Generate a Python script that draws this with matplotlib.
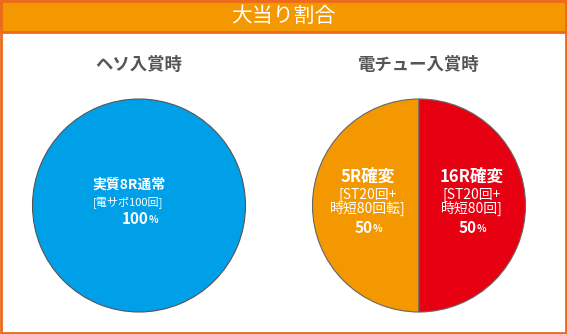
import matplotlib
matplotlib.use("Agg")
import matplotlib.pyplot as plt
from matplotlib.patches import Rectangle

plt.rcParams['font.family'] = ['Noto Sans CJK JP', 'DejaVu Sans']

# chart data
header = '大当り割合'
titles = ['ヘソ入賞時', '電チュー入賞時']
heso_values = [100]
heso_colors = ['#00A0E9']
heso_labels = [['実質8R通常', '[電サポ100回]', '100']]
den_values = [50, 50]
den_colors = ['#F39800', '#E60012']
den_labels = [['5R確変', '[ST20回+\n時短80回転]', '50'],
              ['16R確変', '[ST20回+\n時短80回]', '50']]

W, H = 567, 334
R = 106.5
fig = plt.figure(figsize=(W / 100, H / 100), dpi=100)

# frame and header band (pixel coords, y from top), kept under the axes
def px_rect(x, y, w, h, **kw):
    fig.patches.append(Rectangle((x / W, 1 - (y + h) / H), w / W, h / H,
                                 transform=fig.transFigure, zorder=-5, **kw))

px_rect(1, 1, W - 2, H - 2, facecolor='white', edgecolor='#EC6A1A', linewidth=2)
px_rect(1, 1, W - 2, 31, facecolor='#F39800', edgecolor='#EC6A1A', linewidth=2)
fig.text(283 / W, 1 - 16 / H, header, color='white', fontsize=15,
         ha='center', va='center')


def pie_axes(cx, cy):
    ax = fig.add_axes([(cx - R) / W, 1 - (cy + R) / H, 2 * R / W, 2 * R / H])
    ax.set_zorder(2)
    return ax


def fix_limits(ax):
    # pie() pads the limits, pin them to the unit circle
    ax.set_xlim(-1, 1)
    ax.set_ylim(-1, 1)
    ax.set_aspect('equal')
    ax.axis('off')


def to_data(cx, cy, x, y):
    return (x - cx) / R, (cy - y) / R


def pct(ax, x, y, num, size):
    t = ax.text(x, y, num, color='white', fontsize=size, fontweight='bold',
                ha='center', va='center')
    ax.annotate('%', xy=(1, 0.12), xycoords=t, color='white', fontsize=size * 0.65,
                fontweight='bold', ha='left', va='bottom')


centers = [(139, 205.5), (419, 205.5)]
for (cx, cy), title in zip(centers, titles):
    fig.text(cx / W, 1 - 65 / H, title, color='#555555', fontsize=12.5,
             fontweight='bold', ha='center', va='center')

# left pie
cx, cy = centers[0]
ax1 = pie_axes(cx, cy)
ax1.pie(heso_values, colors=heso_colors, startangle=90, radius=1,
        wedgeprops=dict(edgecolor='#555555', linewidth=0.8))
fix_limits(ax1)
lab = heso_labels[0]
x, y = to_data(cx, cy, 129, 185)
ax1.text(x, y, lab[0], color='white', fontsize=10, fontweight='bold',
         ha='center', va='center')
x, y = to_data(cx, cy, 128, 202)
ax1.text(x, y, lab[1], color='white', fontsize=8, ha='center', va='center')
x, y = to_data(cx, cy, 135, 219)
pct(ax1, x, y, lab[2], 11)

# right pie
cx, cy = centers[1]
ax2 = pie_axes(cx, cy)
ax2.pie(den_values, colors=den_colors, startangle=90, radius=1,
        wedgeprops=dict(edgecolor='#666666', linewidth=0.8))
fix_limits(ax2)
for lab, tx in zip(den_labels, [368, 472]):
    x, y = to_data(cx, cy, tx, 177)
    ax2.text(x, y, lab[0], color='white', fontsize=12, fontweight='bold',
             ha='center', va='center')
    x, y = to_data(cx, cy, tx, 202)
    ax2.text(x, y, lab[1], color='white', fontsize=10, ha='center', va='center',
             linespacing=0.9)
    x, y = to_data(cx, cy, tx - 4, 228)
    pct(ax2, x, y, lab[2], 11)

fig.savefig('out.png', dpi=100)
